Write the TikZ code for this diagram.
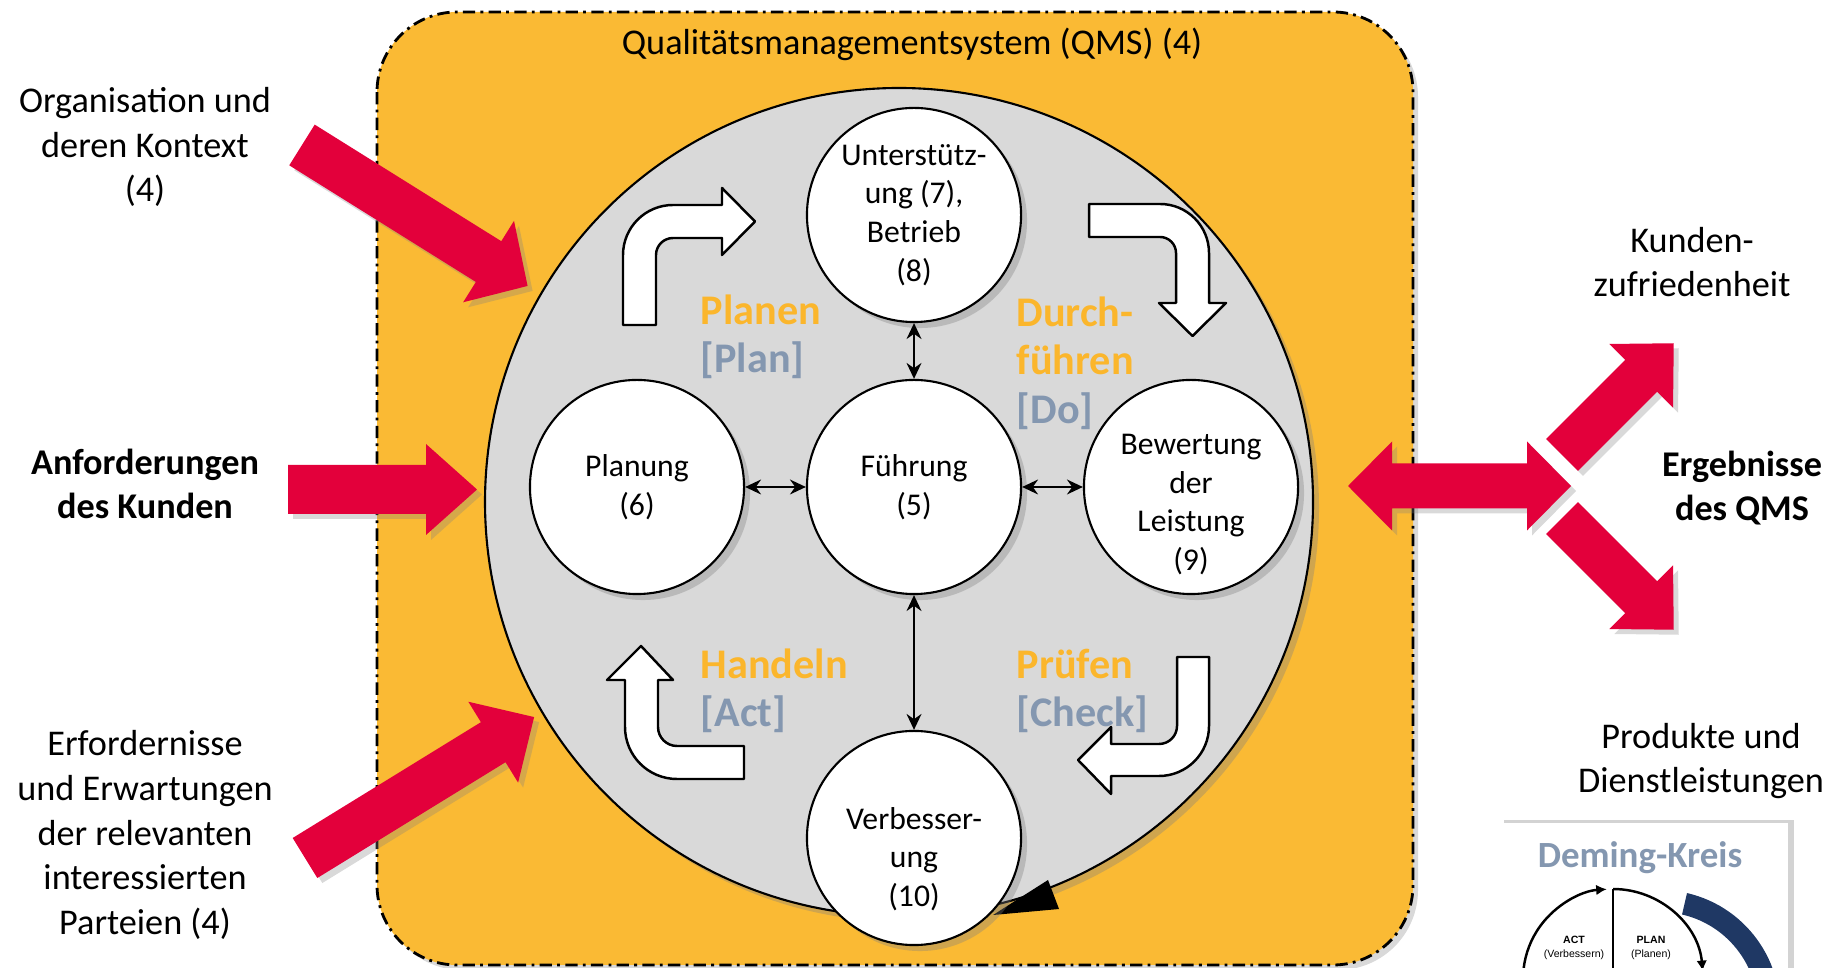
\documentclass[tikz,border=0pt]{standalone}
\usepackage{fontspec}
\setmainfont{Carlito}
\newfontfamily\arialfont{Liberation Sans}
\usetikzlibrary{arrows.meta,shadows}

\definecolor{qmsorange}{RGB}{250,186,52}
\definecolor{phaseorange}{RGB}{251,182,44}
\definecolor{bluegray}{RGB}{132,151,176}
\definecolor{kreisgray}{RGB}{217,217,217}
\definecolor{inputred}{RGB}{227,0,59}
\definecolor{demingnavy}{RGB}{31,56,100}

\tikzset{
  proctext/.style={align=center, font=\fontsize{9}{11}\selectfont},
  proc/.style={circle, draw, line width=0.6pt, fill=white, minimum size=2.14cm,
    inner sep=0pt, proctext,
    drop shadow={opacity=0.35, shadow xshift=0.6mm, shadow yshift=-0.6mm}},
  link/.style={line width=0.8pt,
    {Stealth[length=4.5pt,width=4.2pt]}-{Stealth[length=4.5pt,width=4.2pt]}},
  bigarrow/.style={fill=inputred,
    drop shadow={opacity=0.3, shadow xshift=0.5mm, shadow yshift=-0.5mm}},
  bent/.style={fill=white, draw, line width=0.7pt, line join=round},
  phase/.style={anchor=west, align=left, inner sep=0pt, text=phaseorange,
    font=\fontsize{12}{13.8}\selectfont\bfseries},
  side/.style={align=center, font=\fontsize{10.3}{12.7}\selectfont},
  sidebold/.style={align=center, font=\fontsize{10.3}{12.7}\selectfont\bfseries},
  demtext/.style={align=center, inner sep=0pt, font=\arialfont\fontsize{3}{3.8}\selectfont},
}

\begin{document}
\begin{tikzpicture}[x=0.01cm, y=0.01cm]
  \useasboundingbox (0,0) rectangle (1846,-968);
  \clip (0,0) rectangle (1846,-968);

  % QMS frame
  \draw[fill=qmsorange, line width=0.8pt, rounded corners=0.8cm,
    dash pattern=on 3.5pt off 1.5pt on 0.8pt off 1.5pt,
    drop shadow={opacity=0.3, shadow xshift=0.5mm, shadow yshift=-0.5mm}]
    (377,-12) rectangle (1413,-965);
  \node[side] (title) at (912,-44) {Qualitätsmanagementsystem (QMS) (4)};

  % grey disc with arrow tip
  \draw[fill=kreisgray, line width=0.6pt,
    drop shadow={opacity=0.35, shadow xshift=0.6mm, shadow yshift=-0.6mm}]
    (899,-502) circle [radius=414];
  \fill (993,-915) -- (1048,-880) -- (1059,-909) -- cycle;

  % clauses
  \node[proc] (unt) at (914,-215) {Unterstütz-\\ung (7),\\Betrieb\\(8)};
  \node[proc] (fuehr) at (914,-487) {Führung\\(5)};
  \node[proc] (plan) at (637,-487) {Planung\\(6)};
  \node[proc, label={[proctext, yshift=-5pt]center:Bewertung\\der\\Leistung\\(9)}]
    (bew) at (1191,-487) {};
  \node[proc, label={[proctext, yshift=-6pt]center:Verbesser-\\ung\\(10)}]
    (verb) at (914,-838) {};

  \draw[link] (unt) -- (fuehr);
  \draw[link] (plan) -- (fuehr);
  \draw[link] (fuehr) -- (bew);
  \draw[link] (fuehr) -- (verb);

  % PDCA bent arrows
  \draw[bent] (623,-325) -- (623,-255) arc[start angle=180, end angle=90, radius=50]
    -- (722,-205) -- (722,-188) -- (755,-221.5) -- (722,-255) -- (722,-238)
    -- (673,-238) arc[start angle=90, end angle=180, radius=17] -- (656,-325) -- cycle;
  \draw[bent] (1089,-204) -- (1160,-204) arc[start angle=90, end angle=0, radius=49]
    -- (1209,-303) -- (1226,-303) -- (1192.5,-336) -- (1159,-303) -- (1176,-303)
    -- (1176,-253) arc[start angle=0, end angle=90, radius=16] -- (1089,-237) -- cycle;
  \draw[bent] (1177,-657) -- (1209,-657) -- (1209,-726)
    arc[start angle=0, end angle=-90, radius=50] -- (1111,-776) -- (1111,-794)
    -- (1078,-760) -- (1111,-727) -- (1111,-744) -- (1159,-744)
    arc[start angle=-90, end angle=0, radius=18] -- cycle;
  \draw[bent] (744,-746) -- (677,-746) arc[start angle=270, end angle=180, radius=19]
    -- (658,-680) -- (673,-680) -- (641,-646) -- (607,-680) -- (625,-680)
    -- (625,-727) arc[start angle=180, end angle=270, radius=52] -- (744,-779) -- cycle;

  \node[phase] (planen) at (700,-337) {Planen\\\textcolor{bluegray}{[Plan]}};
  \node[phase] (durch) at (1016,-363) {Durch-\\führen\\\textcolor{bluegray}{[Do]}};
  \node[phase] (handeln) at (700,-691) {Handeln\\\textcolor{bluegray}{[Act]}};
  \node[phase] (pruefen) at (1016,-691) {Prüfen\\\textcolor{bluegray}{[Check]}};

  % inputs
  \fill[bigarrow, shift={(302,-145)}, rotate=-32]
    (0,24) -- (220,24) -- (220,48) -- (266,0) -- (220,-48) -- (220,-24) -- (0,-24) -- cycle;
  \fill[bigarrow] (288,-465) -- (426,-465) -- (426,-444) -- (477,-489.5)
    -- (426,-535) -- (426,-514) -- (288,-514) -- cycle;
  \fill[bigarrow, shift={(305,-858)}, rotate=31.6]
    (0,23.5) -- (221,23.5) -- (221,47.5) -- (269,0) -- (221,-47.5) -- (221,-23.5) -- (0,-23.5) -- cycle;

  % outputs
  \fill[bigarrow] (1348,-486) -- (1392,-441.5) -- (1392,-463.5) -- (1527,-463.5)
    -- (1527,-441.5) -- (1571,-486) -- (1527,-530.5) -- (1527,-508.5)
    -- (1392,-508.5) -- (1392,-530.5) -- cycle;
  \fill[bigarrow, shift={(1562,-455)}, rotate=45]
    (0,22.5) -- (112,22.5) -- (112,45) -- (158,0) -- (112,-45) -- (112,-22.5) -- (0,-22.5) -- cycle;
  \fill[bigarrow, shift={(1562,-518)}, rotate=-45]
    (0,22.5) -- (112,22.5) -- (112,45) -- (158,0) -- (112,-45) -- (112,-22.5) -- (0,-22.5) -- cycle;

  \node[side] (org) at (145,-147) {Organisation und\\deren Kontext\\(4)};
  \node[sidebold] (anf) at (145,-484) {Anforderungen\\des Kunden};
  \node[side] (erf) at (145,-835) {Erfordernisse\\und Erwartungen\\der relevanten\\interessierten\\Parteien (4)};
  \node[side] (kund) at (1692,-262) {Kunden-\\zufriedenheit};
  \node[sidebold] (erg) at (1742,-488) {Ergebnisse\\des QMS};
  \node[side] (prod) at (1701,-761) {Produkte und\\Dienstleistungen};

  % Deming inset
  \fill[white, drop shadow={opacity=0.35, shadow xshift=0.6mm, shadow yshift=0.3mm}]
    (1498,-823) rectangle (1788,-1000);
  \node[font=\fontsize{10.5}{12}\selectfont\bfseries, text=bluegray] (demtitle)
    at (1640,-858) {Deming-Kreis};
  \fill[demingnavy] (1660,-1010) ++(77:120) arc[start angle=77, end angle=-10, radius=120]
    -- (1756.5,-1027) arc[start angle=-10, end angle=77, radius=98] -- cycle;
  \draw[line width=0.5pt] (1613,-889) -- (1613,-1000);
  \draw[line width=0.7pt, -{Latex[length=3pt,width=3pt]}]
    (1613,-979) ++(200:90) arc[start angle=200, end angle=94, radius=90];
  \draw[line width=0.7pt, -{Latex[length=3pt,width=3pt]}]
    (1613,-889) arc[start angle=90, end angle=5, radius=90];
  \node[demtext] (act) at (1574,-948) {\textbf{ACT}\\(Verbessern)};
  \node[demtext] (plandem) at (1651,-948) {\textbf{PLAN}\\(Planen)};
\end{tikzpicture}
\end{document}
